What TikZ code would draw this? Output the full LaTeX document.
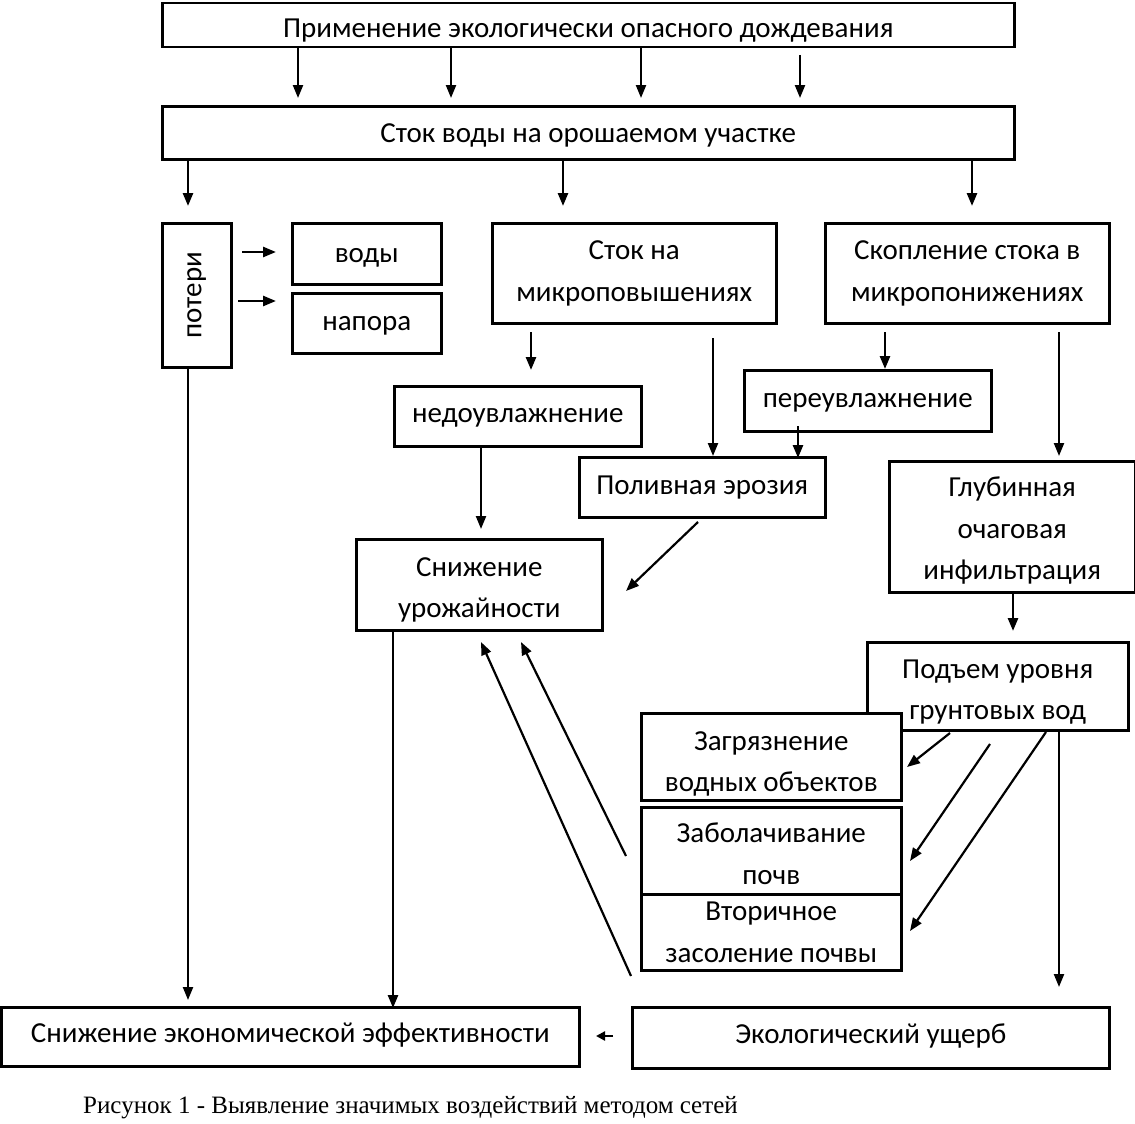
\documentclass[tikz,border=0pt]{standalone}
\usepackage{fontspec}
\setmainfont{Carlito}
\newfontfamily\capfont{Liberation Serif}
\usetikzlibrary{arrows.meta,calc}
\begin{document}
\begin{tikzpicture}[x=1pt,y=-1pt,
  box/.style={draw,line width=2.5pt,fill=white,anchor=north west,inner sep=0pt},
  txt/.style={inner sep=0pt,align=center,font=\fontsize{29}{41.5}\selectfont},
  arr/.style={line width=2.6pt,-{Triangle[length=13pt,width=10pt]}},
  thin arr/.style={line width=2.2pt,-{Triangle[length=13pt,width=10pt]}}]
\useasboundingbox (0,0) rectangle (1135,1124);
% boxes
\node[box,minimum width=852pt,minimum height=44pt] (top) at (161,2) {};
\node[txt] (topT) at ($(top.center)+(0,5)$) {Применение экологически опасного дождевания};
\node[box,minimum width=852pt,minimum height=53pt] (stok) at (161,105) {};
\node[txt] (stokT) at ($(stok.center)+(0,3)$) {Сток воды на орошаемом участке};
\node[box,minimum width=69pt,minimum height=144pt] (pot) at (161,222) {};
\node[txt,rotate=90] (potT) at (pot.center) {потери};
\node[box,minimum width=149pt,minimum height=61pt] (vody) at (291,222) {};
\node[txt] (vodyT) at ($(vody.center)+(0,4)$) {воды};
\node[box,minimum width=149pt,minimum height=60pt] (napor) at (291,292) {};
\node[txt] (naporT) at ($(napor.center)+(0,3)$) {напора};
\node[box,minimum width=284pt,minimum height=100pt] (micro) at (491,222) {};
\node[txt] (microT) at ($(micro.center)+(0,0)$) {Сток на\\микроповышениях};
\node[box,minimum width=284pt,minimum height=100pt] (skop) at (824,222) {};
\node[txt] (skopT) at ($(skop.center)+(0,0)$) {Скопление стока в\\микропонижениях};
\node[box,minimum width=247pt,minimum height=60pt] (nedo) at (393,385) {};
\node[txt] (nedoT) at ($(nedo.center)+(0,2)$) {недоувлажнение};
\node[box,minimum width=247pt,minimum height=61pt] (pere) at (743,369) {};
\node[txt] (pereT) at ($(pere.center)+(0,2)$) {переувлажнение};
\node[box,minimum width=246pt,minimum height=60pt] (eroz) at (578,456) {};
\node[txt] (erozT) at ($(eroz.center)+(0,0)$) {Поливная эрозия};
\node[box,minimum width=246pt,minimum height=131pt] (glub) at (888,460) {};
\node[txt] (glubT) at ($(glub.center)+(0,4)$) {Глубинная\\очаговая\\инфильтрация};
\node[box,minimum width=246pt,minimum height=91pt] (urozh) at (355,538) {};
\node[txt] (urozhT) at ($(urozh.center)+(0,5)$) {Снижение\\урожайности};
\node[box,minimum width=261pt,minimum height=88pt] (podem) at (866,641) {};
\node[txt] (podemT) at ($(podem.center)+(0,6)$) {Подъем уровня\\грунтовых вод};
\node[box,minimum width=260pt,minimum height=87pt] (zagr) at (640,712) {};
\node[txt] (zagrT) at ($(zagr.center)+(0,7)$) {Загрязнение\\водных объектов};
\node[box,minimum width=260pt,minimum height=87pt] (zabol) at (640,806) {};
\node[txt] (zabolT) at ($(zabol.center)+(0,3)$) {Заболачивание\\почв};
\node[box,minimum width=260pt,minimum height=76pt] (vtor) at (640,893) {};
\node[txt] (vtorT) at ($(vtor.center)+(0,0)$) {Вторичное\\засоление почвы};
\node[box,minimum width=578pt,minimum height=59pt] (econ) at (0,1006) {};
\node[txt] (econT) at ($(econ.center)+(0,-2)$) {Снижение экономической эффективности};
\node[box,minimum width=477pt,minimum height=61pt] (ekol) at (631,1006) {};
\node[txt] (ekolT) at ($(ekol.center)+(0,-2)$) {Экологический ущерб};
\node[anchor=west,inner sep=0pt,font=\capfont\fontsize{25}{28}\selectfont] (cap) at (83,1108) {Рисунок 1 - Выявление значимых воздействий методом сетей};
% arrows
\foreach \x/\s in {298/48,451/48,641/48,800/55}
  \draw[thin arr] (\x,\s) -- (\x,98);
\draw[arr] (188,158) -- (188,206);
\draw[arr] (563,158) -- (563,206);
\draw[arr] (972,158) -- (972,206);
\draw[arr] (242,252) -- (276,252);
\draw[arr] (238,301) -- (276,301);
\draw[arr] (531,332) -- (531,370);
\draw[thin arr] (713,338) -- (713,456);
\draw[arr] (885,332) -- (885,369);
\draw[arr] (798,426) -- (798,458);
\draw[thin arr] (1059,332) -- (1059,456);
\draw[arr] (1013,591) -- (1013,631);
\draw[thin arr] (481,445) -- (481,529);
\draw[thin arr] (698,522) -- (626,591);
\draw[thin arr] (626,856) -- (521,642);
\draw[thin arr] (631,976) -- (481,642);
\draw[thin arr] (950,733) -- (907,767);
\draw[thin arr] (990,744) -- (910,861);
\draw[thin arr] (1046,732) -- (910,931);
\draw[thin arr] (1059,732) -- (1059,987);
\draw[thin arr] (188,366) -- (188,1000);
\draw[arr] (393,629) -- (393,1008);
\draw[line width=2.2pt,-{Triangle[length=9pt,width=9pt]}] (613,1036) -- (596,1036);
\end{tikzpicture}
\end{document}
